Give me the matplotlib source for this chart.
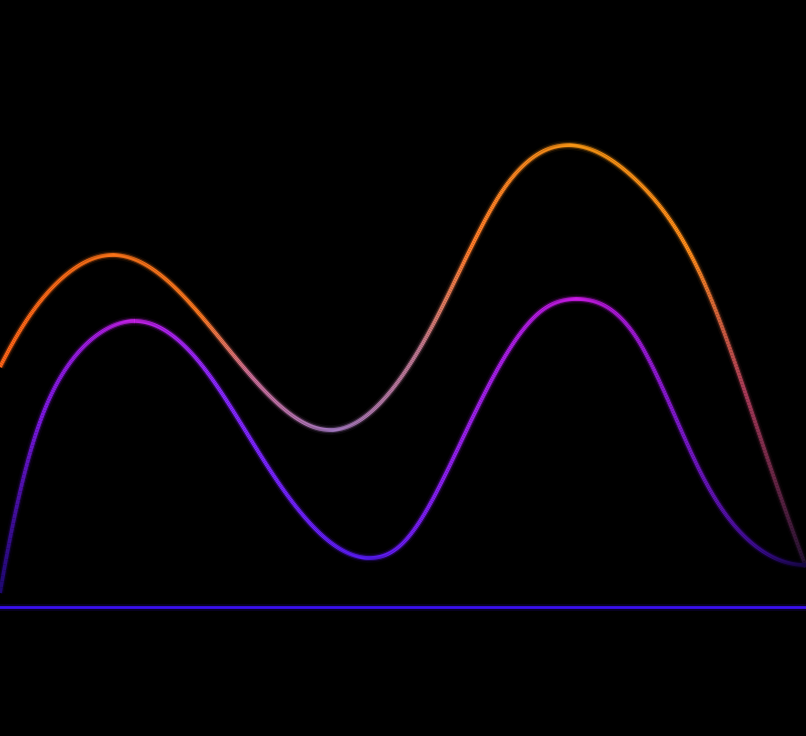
import numpy as np
import matplotlib.pyplot as plt
from matplotlib.collections import LineCollection
from matplotlib.colors import to_rgba

# Datos (x, valor sobre la línea base)
orange_x = [0, 33, 67, 113, 170, 235, 332, 437, 503, 578, 636, 703, 769, 806]
orange_y = [240, 296, 333, 352, 324, 250, 177, 290, 417, 461, 427, 327, 144, 40]

purple_x = [0, 33, 67, 100, 135, 200, 270, 337, 370, 403, 470, 540, 578, 636, 703, 769, 806]
purple_y = [14, 164, 240, 274, 286, 244, 137, 60, 49, 64, 184, 295, 308, 270, 130, 52, 42]

baseline = 0

# Paradas de color a lo largo del eje x
orange_stops = [(0, '#ff6418'), (110, '#ff7418'), (200, '#ff7a20'), (250, '#d0709a'),
                (332, '#a87cc8'), (420, '#c07890'), (470, '#ff7c2a'), (578, '#ff9a14'),
                (690, '#ff8c1a'), (745, '#a83a58'), (806, '#201030')]
purple_stops = [(0, '#1e0870'), (40, '#7a18e0'), (135, '#cc22ee'), (220, '#8828ff'),
                (370, '#5a1cff'), (470, '#9a20e8'), (578, '#cc1ae6'), (680, '#7a18c8'),
                (760, '#3a0c90'), (806, '#140640')]


def spline(xs, ys, n=800):
    # cúbica con extremos parabólicos
    x = np.asarray(xs, float)
    y = np.asarray(ys, float)
    h = np.diff(x)
    m = len(x)
    A = np.zeros((m, m))
    r = np.zeros(m)
    A[0, 0], A[0, 1] = 1, -1
    A[-1, -1], A[-1, -2] = 1, -1
    for i in range(1, m - 1):
        A[i, i - 1] = h[i - 1]
        A[i, i] = 2 * (h[i - 1] + h[i])
        A[i, i + 1] = h[i]
        r[i] = 6 * ((y[i + 1] - y[i]) / h[i] - (y[i] - y[i - 1]) / h[i - 1])
    M = np.linalg.solve(A, r)
    xx = np.linspace(x[0], x[-1], n)
    k = np.clip(np.searchsorted(x, xx) - 1, 0, m - 2)
    a = x[k + 1] - xx
    b = xx - x[k]
    hk = h[k]
    yy = (M[k] * a**3 + M[k + 1] * b**3) / (6 * hk) \
        + (y[k] / hk - M[k] * hk / 6) * a + (y[k + 1] / hk - M[k + 1] * hk / 6) * b
    return xx, yy


def colors_for(xv, stops):
    sx = np.array([s[0] for s in stops], float)
    sc = np.array([to_rgba(s[1]) for s in stops])
    return np.column_stack([np.interp(xv, sx, sc[:, k]) for k in range(4)])


def glow_line(ax, xs, ys, stops):
    xx, yy = spline(xs, ys)
    pts = np.column_stack([xx, yy])
    segs = np.stack([pts[:-1], pts[1:]], axis=1)
    cols = colors_for(0.5 * (xx[:-1] + xx[1:]), stops)
    for lw, al in [(7, 0.07), (4.5, 0.25)]:
        c = cols.copy()
        c[:, 3] = al
        ax.add_collection(LineCollection(segs, colors=c, linewidths=lw, capstyle='butt'))
    ax.add_collection(LineCollection(segs, colors=cols, linewidths=2.7, capstyle='butt'))


fig = plt.figure(figsize=(8.06, 7.36), dpi=100, facecolor='black')
ax = fig.add_axes([0, 0, 1, 1])
ax.set_facecolor('black')

glow_line(ax, orange_x, orange_y, orange_stops)
glow_line(ax, purple_x, purple_y, purple_stops)

ax.axhline(baseline, color='#3a10f0', lw=5, alpha=0.15)
ax.axhline(baseline, color='#3a10f0', lw=2.0)

ax.set_xlim(0, 806)
ax.set_ylim(-129, 607)
ax.axis('off')

fig.savefig('out.png', dpi=100, facecolor='black')
